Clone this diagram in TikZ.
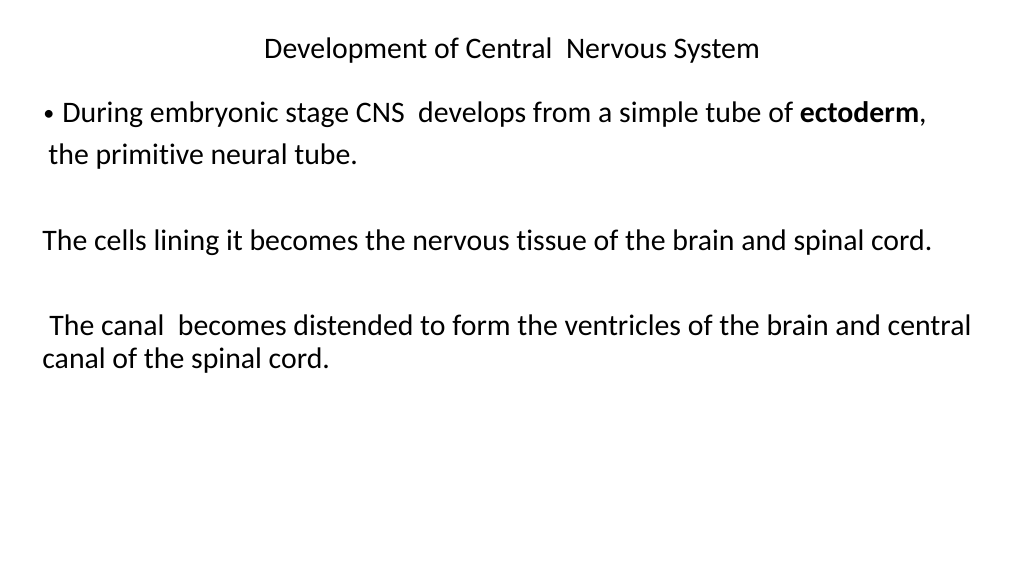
\documentclass[tikz,border=0pt]{standalone}
\usepackage{fontspec}
\setmainfont[Ligatures={NoCommon}]{Carlito}
\begin{document}
\begin{tikzpicture}[scale=1.000000,x=1pt,y=1pt]
\tikzset{slidetext/.style={anchor=base west,inner sep=0pt,font=\fontsize{29.8}{34}\selectfont}}
\filldraw[color=white] (0.000000, 0.000000) rectangle (1024.000000, 576.000000);
% Title
\node[anchor=base,inner sep=0pt,font=\fontsize{29.8}{34}\selectfont] (title) at (512.000000, 518.000000) {Development of Central\ \ Nervous System};
% Bullet paragraph
\node[slidetext,font=\fontsize{22}{26}\selectfont] (bullet) at (43.000000, 456.000000) {\textbullet};
\node[slidetext] (lineA) at (62.000000, 454.000000) {During embryonic stage CNS\ \ develops from a simple tube of \textbf{ectoderm},};
\node[slidetext] (lineB) at (48.000000, 412.000000) {the primitive neural tube.};
% Second paragraph
\node[slidetext] (lineC) at (42.000000, 326.000000) {The cells lining it becomes the nervous tissue of the brain and spinal cord.};
% Third paragraph
\node[slidetext] (lineD) at (49.000000, 241.000000) {The canal\ \ becomes distended to form the ventricles of the brain and central};
\node[slidetext] (lineE) at (42.000000, 208.000000) {canal of the spinal cord.};
\end{tikzpicture}
\end{document}
